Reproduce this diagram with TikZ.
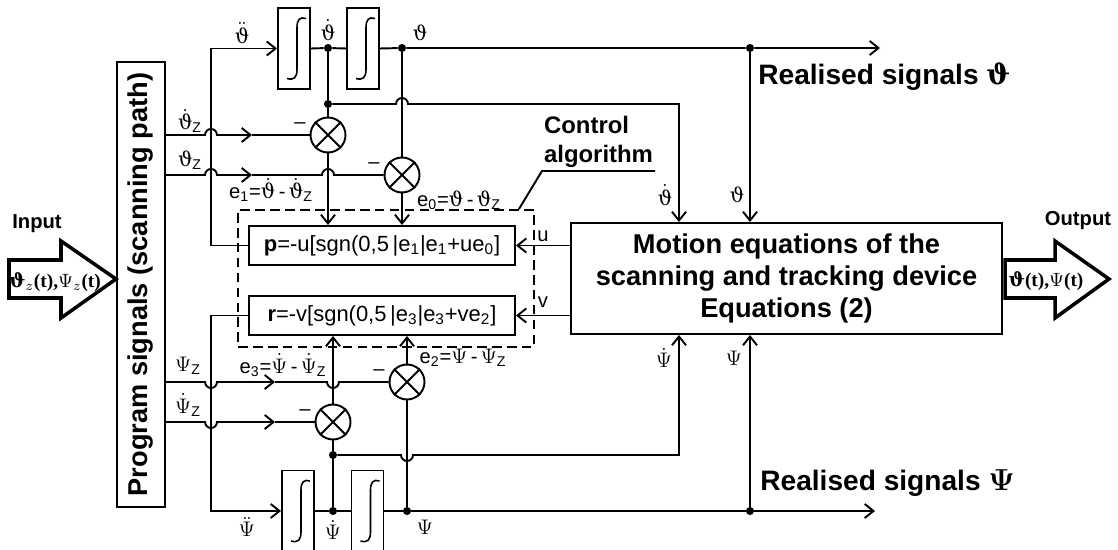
\documentclass[tikz,border=0pt]{standalone}
\usepackage{fontspec}
\setmainfont{Liberation Sans}
\newfontfamily\serifbf{Liberation Serif}
\newfontfamily\grk{DejaVu Serif}
\newcommand{\vth}{\mbox{\grk ϑ}}
\usetikzlibrary{arrows.meta,positioning,calc}

\begin{document}
\begin{tikzpicture}[
  x=0.02cm, y=-0.02cm,
  >={Straight Barb[length=5pt,width=8pt]},
  sig/.style={line width=1.1pt},
  progbox/.style={draw, line width=1.1pt, rotate=90, inner sep=0pt,
                  minimum width=8.9cm, minimum height=0.96cm,
                  font=\fontsize{15.5}{18}\selectfont\bfseries},
  intbox/.style={draw, line width=1.1pt, minimum width=0.64cm,
                 minimum height=1.62cm, inner sep=0pt},
  mult/.style={draw, circle, line width=1.1pt, minimum size=0.7cm, inner sep=0pt},
  dot/.style={circle, fill, inner sep=0pt, minimum size=4.6pt},
  algbox/.style={draw, line width=1.1pt, minimum width=5.32cm, minimum height=0.78cm,
                 inner sep=0pt, font=\fontsize{12.5}{15}\selectfont},
  ctrlframe/.style={draw, line width=1.1pt, dash pattern=on 5.5pt off 3pt,
                    minimum width=5.92cm, minimum height=2.74cm},
  plantbox/.style={draw, line width=1.1pt, align=center, minimum width=8.62cm,
                   minimum height=2.22cm,
                   font=\fontsize{15.5}{18.4}\selectfont\bfseries},
  blockarrow/.style={line width=2pt, line join=miter},
  lbl/.style={font=\fontsize{11.5}{13}\selectfont, inner sep=1pt},
  headl/.style={font=\fontsize{11.5}{13}\selectfont\bfseries, inner sep=1pt},
  bigl/.style={font=\fontsize{16}{19}\selectfont\bfseries, inner sep=0pt, anchor=west},
  ctrllbl/.style={font=\fontsize{13.6}{16}\selectfont\bfseries, align=left,
                  inner xsep=1pt, inner ysep=2pt}
]
\useasboundingbox (0,0) rectangle (1118,550);

% Program signals and the input arrow
\node[progbox] (prog) at (141,284.5) {Program signals (scanning path)};
\draw[blockarrow] (9,260) -- (61,260) -- (61,241) -- (116,279) -- (61,318)
  -- (61,298) -- (9,298) -- cycle;
\node[headl] (inlbl) at (37,224) {Input};
\node[font=\fontsize{11}{13}\selectfont\serifbf\bfseries, inner sep=0pt] (inval)
  at (55,282) {$\vth_z$(t),$\Psi_z$(t)};

% Integrators, comparators and junctions
\node[intbox] (int1) at (294,48.5) {};
\node[intbox] (int2) at (363,48.5) {};
\node[intbox] (int3) at (298,511) {};
\node[intbox] (int4) at (367.5,511) {};
\foreach \n in {int1,int2,int3,int4} {
  \draw[line width=0.9pt] ([shift={(12,-30)}]\n.center)
    .. controls ([shift={(6,-32)}]\n.center) and ([shift={(3,-29)}]\n.center)
    .. ([shift={(3,-21)}]\n.center) -- ([shift={(3,21)}]\n.center)
    .. controls ([shift={(3,29)}]\n.center) and ([shift={(0,32)}]\n.center)
    .. ([shift={(-7,30)}]\n.center);
}
\node[mult] (m1) at (328,135) {};
\node[mult] (m2) at (402,175) {};
\node[mult] (m3) at (333,422) {};
\node[mult] (m4) at (407,382) {};
\foreach \m in {m1,m2,m3,m4} {
  \draw[sig] (\m.45) -- (\m.225) (\m.135) -- (\m.315);
}
\node[dot] (jd1) at (328,48) {};
\node[dot] (jt) at (402,48) {};
\node[dot] (jv) at (328,104) {};
\node[dot] (jr1) at (750,48) {};
\node[dot] (jpd) at (333,511) {};
\node[dot] (jp) at (407,511) {};
\node[dot] (jpv) at (333,455) {};
\node[dot] (jr2) at (750,511) {};
\coordinate (vl) at (211,0);
\coordinate (thend) at (880,48);
\coordinate (psend) at (875,511);

% Control algorithm
\node[ctrlframe] (ctrl) at (386,278.5) {};
\node[algbox] (pbox) at (382,245.5)
  {\textbf{p}=-u[sgn(0,5\,|e\textsubscript{1}|e\textsubscript{1}+ue\textsubscript{0}]};
\node[algbox] (rbox) at (382,315.5)
  {\textbf{r}=-v[sgn(0,5\,|e\textsubscript{3}|e\textsubscript{3}+ve\textsubscript{2}]};
\node[ctrllbl, anchor=south west] (ctrltxt) at (542,171) {Control\\algorithm};
\draw[sig] (ctrltxt.south east) -- (ctrltxt.south west)
  -- ($(ctrl.north east)+(-16,0)$);

% Plant and output arrow
\node[plantbox] (plant) at (786.5,278.5)
  {Motion equations of the\\scanning and tracking device\\Equations (2)};
\coordinate (dthin) at ($(plant.north)+(-107.5,0)$);
\coordinate (thin) at (plant.north -| jr1);
\coordinate (dpsin) at ($(plant.south)+(-107.5,0)$);
\coordinate (psin) at (plant.south -| jr2);
\draw[blockarrow] (1005,260) -- (1055,260) -- (1055,241) -- (1109,279)
  -- (1055,318) -- (1055,298) -- (1005,298) -- cycle;
\node[headl] (outlbl) at (1078,221) {Output};
\node[font=\fontsize{11}{13}\selectfont\serifbf\bfseries, inner sep=0pt] (outval)
  at (1046,281) {$\vth$(t),$\Psi$(t)};

% Upper loop (theta)
\draw[sig,->] (pbox.west) -| (vl |- int1.west) -- (int1.west);
\draw[sig] (int1.east) -- (jd1) -- (int2.west);
\draw[sig,->] (int2.east) -- (jt) -- (jr1) -- (thend);
\draw[sig,->] (jr1) -- (thin);
\draw[sig] (jd1) -- (jv) -- (m1);
\draw[sig,->] (jv) -- ($(jv -| jt)+(-6,0)$) arc[start angle=180,end angle=0,radius=0.12cm]
  -- (jv -| dthin) -- (dthin);
\draw[sig] (jt) -- (m2);
\draw[sig,->] (m1) -- (m1 |- pbox.north);
\draw[sig,->] (m2) -- (m2 |- pbox.north);
\draw[sig,->] (prog.south |- m1) -- ($(vl |- m1)+(-6,0)$)
  arc[start angle=180,end angle=0,radius=0.12cm] -- ($(vl |- m1)+(41,0)$);
\draw[sig] ($(vl |- m1)+(41,0)$) -- (m1);
\draw[sig,->] (prog.south |- m2) -- ($(vl |- m2)+(-6,0)$)
  arc[start angle=180,end angle=0,radius=0.12cm] -- ($(vl |- m2)+(41,0)$);
\draw[sig] ($(vl |- m2)+(41,0)$) -- ($(m1 |- m2)+(-6,0)$)
  arc[start angle=180,end angle=0,radius=0.12cm] -- (m2);

% Lower loop (psi)
\draw[sig,->] (rbox.west) -| (vl |- int3.west) -- (int3.west);
\draw[sig] (int3.east) -- (jpd) -- (int4.west);
\draw[sig,->] (int4.east) -- (jp) -- (jr2) -- (psend);
\draw[sig,->] (jr2) -- (psin);
\draw[sig] (jpd) -- (jpv) -- (m3);
\draw[sig,->] (jpv) -- ($(jpv -| jp)+(-6,0)$) arc[start angle=180,end angle=360,radius=0.12cm]
  -- (jpv -| dpsin) -- (dpsin);
\draw[sig] (jp) -- (m4);
\draw[sig,->] (m3) -- (m3 |- rbox.south);
\draw[sig,->] (m4) -- (m4 |- rbox.south);
\draw[sig,->] (prog.south |- m4) -- ($(vl |- m4)+(-6,0)$)
  arc[start angle=180,end angle=360,radius=0.12cm] -- ($(vl |- m4)+(64,0)$);
\draw[sig] ($(vl |- m4)+(64,0)$) -- ($(m3 |- m4)+(-6,0)$)
  arc[start angle=180,end angle=360,radius=0.12cm] -- (m4);
\draw[sig,->] (prog.south |- m3) -- ($(vl |- m3)+(-6,0)$)
  arc[start angle=180,end angle=360,radius=0.12cm] -- ($(vl |- m3)+(64,0)$);
\draw[sig] ($(vl |- m3)+(64,0)$) -- (m3);

% Control signals
\draw[sig,->] (plant.west |- pbox) -- (pbox.east);
\draw[sig,->] (plant.west |- rbox) -- (rbox.east);
\node[lbl] (lu) at (543,236) {u};
\node[lbl] (lv) at (543,302) {v};

% Signal labels
\node[lbl] (lddth) at (242,33) {$\ddot{\vth}$};
\node[lbl] (ldth) at (328,30) {$\dot{\vth}$};
\node[lbl] (lth) at (420,33) {$\vth$};
\node[lbl] (ldthz) at (190,121) {$\dot{\vth}_{\mathrm{Z}}$};
\node[lbl] (lthz) at (190,160) {$\vth_{\mathrm{Z}}$};
\node[lbl] (lpsz) at (188,366) {$\Psi_{\mathrm{Z}}$};
\node[lbl] (ldpsz) at (188,405) {$\dot\Psi_{\mathrm{Z}}$};
\node[lbl] (le1) at (271,190)
  {e\textsubscript{1}=$\dot{\vth}$\,-\,$\dot{\vth}_{\mathrm{Z}}$};
\node[lbl] (le0) at (459,200)
  {e\textsubscript{0}=$\vth$\,-\,$\vth_{\mathrm{Z}}$};
\node[lbl] (le3) at (283,365)
  {e\textsubscript{3}=$\dot\Psi$\,-\,$\dot\Psi_{\mathrm{Z}}$};
\node[lbl] (le2) at (463,358)
  {e\textsubscript{2}=$\Psi$\,-\,$\Psi_{\mathrm{Z}}$};
\foreach \m in {m1,m2,m3,m4} {
  \node[lbl] at ($(\m)+(-28,-9)$) {--};
}
\node[lbl] (ldthin) at (665,195) {$\dot{\vth}$};
\node[lbl] (lthin) at (737,195) {$\vth$};
\node[lbl] (ldpsin) at (664,358) {$\dot\Psi$};
\node[lbl] (lpsin) at (734,358) {$\Psi$};
\node[lbl] (lddps) at (247,527) {$\ddot\Psi$};
\node[lbl] (ldps) at (333,530) {$\dot\Psi$};
\node[lbl] (lps) at (425,527) {$\Psi$};
\node[bigl] (realth) at (758,77) {Realised signals {\grk\bfseries ϑ}};
\node[bigl] (realps) at (760,483) {Realised signals {\boldmath$\Psi$}};

\end{tikzpicture}
\end{document}
